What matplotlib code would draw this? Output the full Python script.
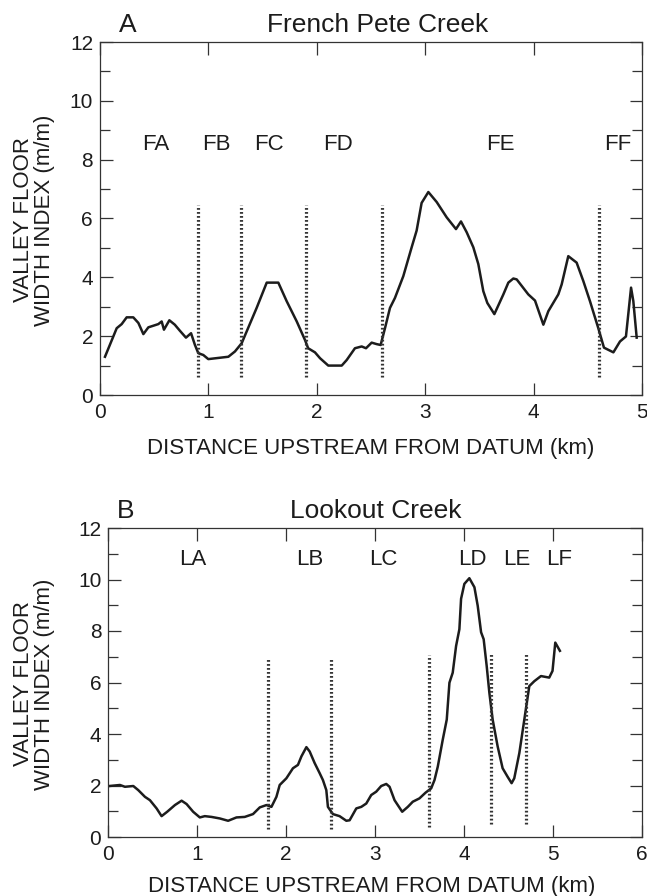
import matplotlib
matplotlib.use("Agg")
import matplotlib.pyplot as plt
from matplotlib.ticker import MultipleLocator

plt.rcParams['font.family'] = ['Liberation Sans', 'DejaVu Sans']

# ---------------- data: French Pete Creek (panel A) ----------------
fp_dist = [0.046, 0.154, 0.20, 0.246, 0.307, 0.354, 0.40, 0.446, 0.538, 0.569,
           0.59, 0.64, 0.69, 0.738, 0.793, 0.84, 0.876, 0.907, 0.953, 0.999,
           1.184, 1.245, 1.307, 1.353, 1.445, 1.538, 1.645, 1.722, 1.815, 1.891,
           1.92, 1.983, 2.03, 2.106, 2.23, 2.276, 2.352, 2.414, 2.454, 2.506,
           2.552, 2.589, 2.629, 2.675, 2.721, 2.798, 2.875, 2.921, 2.967, 3.029,
           3.106, 3.198, 3.284, 3.330, 3.383, 3.444, 3.490, 3.536, 3.573, 3.638,
           3.721, 3.767, 3.813, 3.844, 3.951, 4.013, 4.090, 4.136, 4.228, 4.259,
           4.320, 4.397, 4.459, 4.520, 4.597, 4.649, 4.736, 4.797, 4.852, 4.899,
           4.920, 4.951]
fp_width = [1.30, 2.27, 2.41, 2.64, 2.64, 2.45, 2.07, 2.30, 2.41, 2.50,
            2.22, 2.54, 2.39, 2.18, 1.95, 2.10, 1.70, 1.42, 1.36, 1.22,
            1.30, 1.48, 1.76, 2.16, 2.96, 3.82, 3.82, 3.19, 2.50, 1.87,
            1.59, 1.45, 1.25, 1.00, 1.00, 1.19, 1.59, 1.65, 1.59, 1.78,
            1.73, 1.70, 2.27, 2.96, 3.30, 4.04, 5.02, 5.59, 6.53, 6.90,
            6.56, 6.04, 5.64, 5.90, 5.53, 5.02, 4.45, 3.53, 3.13, 2.75,
            3.42, 3.82, 3.96, 3.93, 3.42, 3.21, 2.39, 2.85, 3.42, 3.76,
            4.72, 4.50, 3.87, 3.19, 2.27, 1.61, 1.45, 1.82, 1.99, 3.65,
            3.19, 1.95]
fp_bounds = [0.9, 1.3, 1.9, 2.6, 4.6]
fp_bound_bottom = [0.6, 0.6, 0.6, 0.6, 0.6]
fp_bound_top = [6.45, 6.45, 6.45, 6.45, 6.45]
fp_reach_names = ["FA", "FB", "FC", "FD", "FE", "FF"]
fp_reach_x = [0.51, 1.07, 1.56, 2.2, 3.69, 4.78]
fp_reach_y = 8.5

# ---------------- data: Lookout Creek (panel B) ----------------
lo_dist = [0.011, 0.131, 0.187, 0.281, 0.337, 0.412, 0.468, 0.543, 0.599, 0.662,
           0.749, 0.824, 0.880, 0.954, 1.029, 1.085, 1.160, 1.254, 1.347, 1.441,
           1.534, 1.627, 1.703, 1.778, 1.834, 1.890, 1.927, 2.002, 2.076, 2.132,
           2.171, 2.227, 2.264, 2.320, 2.376, 2.413, 2.451, 2.469, 2.525, 2.600,
           2.676, 2.713, 2.788, 2.844, 2.900, 2.956, 3.012, 3.068, 3.125, 3.162,
           3.218, 3.304, 3.367, 3.423, 3.498, 3.566, 3.630, 3.667, 3.704, 3.760,
           3.805, 3.835, 3.872, 3.910, 3.947, 3.966, 4.003, 4.059, 4.116, 4.153,
           4.191, 4.220, 4.254, 4.284, 4.321, 4.377, 4.433, 4.489, 4.534, 4.564,
           4.621, 4.677, 4.733, 4.789, 4.864, 4.957, 4.994, 5.025, 5.077]
lo_width = [1.98, 2.02, 1.95, 1.98, 1.82, 1.56, 1.43, 1.11, 0.81, 0.98,
            1.24, 1.41, 1.28, 0.98, 0.76, 0.81, 0.78, 0.72, 0.63, 0.76,
            0.78, 0.89, 1.15, 1.24, 1.17, 1.56, 2.02, 2.28, 2.67, 2.80,
            3.13, 3.49, 3.32, 2.87, 2.48, 2.21, 1.82, 1.17, 0.89, 0.81,
            0.63, 0.65, 1.11, 1.17, 1.30, 1.63, 1.76, 1.98, 2.06, 1.95,
            1.43, 0.98, 1.17, 1.37, 1.50, 1.72, 1.89, 2.21, 2.73, 3.78,
            4.56, 5.99, 6.38, 7.42, 8.07, 9.25, 9.83, 10.05, 9.70, 8.98,
            7.95, 7.68, 6.64, 5.60, 4.56, 3.52, 2.67, 2.34, 2.09, 2.28,
            3.26, 4.56, 5.86, 6.05, 6.25, 6.19, 6.45, 7.55, 7.23]
lo_bounds = [1.8, 2.5, 3.6, 4.3, 4.7]
lo_bound_bottom = [0.3, 0.3, 0.4, 0.5, 0.5]
lo_bound_top = [6.95, 6.95, 7.05, 7.15, 7.1]
lo_reach_names = ["LA", "LB", "LC", "LD", "LE", "LF"]
lo_reach_x = [0.955, 2.27, 3.09, 4.09, 4.59, 5.07]
lo_reach_y = 10.76

xlabel = "DISTANCE UPSTREAM FROM DATUM (km)"
ylabel = "VALLEY FLOOR\nWIDTH INDEX (m/m)"

INK = '#1c1c1c'
W, H = 647, 896
fig = plt.figure(figsize=(W / 100, H / 100), dpi=100)


def fx(px):
    return px / W


def fy(py):
    return 1 - py / H


def style_axes(ax, xmax, xpad):
    ax.set_xlim(0, xmax)
    ax.set_ylim(0, 12)
    ax.set_xticks(range(0, xmax + 1))
    ax.set_yticks(range(0, 13, 2))
    ax.yaxis.set_minor_locator(MultipleLocator(1))
    for s in ax.spines.values():
        s.set_linewidth(0.9)
        s.set_color('#333333')
    ax.tick_params(which='major', axis='both', direction='in', top=True, right=True,
                   length=9, width=0.9, color='#333333', labelsize=15, labelcolor=INK)
    ax.tick_params(which='major', axis='y', pad=5)
    ax.tick_params(which='major', axis='x', pad=xpad)
    ax.tick_params(which='minor', axis='y', direction='in', left=True, right=True,
                   length=7, width=0.9, color='#333333')


def draw_panel(ax, dist, width, bounds, bb, bt, names, nx, ny):
    ax.plot(dist, width, color=INK, lw=1.8, solid_joinstyle='round')
    for b, lo, hi in zip(bounds, bb, bt):
        ax.plot([b, b], [lo, hi], color='#333333', lw=2.3,
                linestyle=(0, (0.55, 0.7)))
    for n, x in zip(names, nx):
        ax.text(x, ny, n, ha='center', va='center', fontsize=16, color=INK)


# Panel A
axA = fig.add_axes([fx(100), fy(395), (642 - 100) / W, (395 - 42) / H])
style_axes(axA, 5, 5.5)
draw_panel(axA, fp_dist, fp_width, fp_bounds, fp_bound_bottom, fp_bound_top,
           fp_reach_names, fp_reach_x, fp_reach_y)

# Panel B
axB = fig.add_axes([fx(108.3), fy(837), (642 - 108.3) / W, (837 - 528) / H])
style_axes(axB, 6, 6)
draw_panel(axB, lo_dist, lo_width, lo_bounds, lo_bound_bottom, lo_bound_top,
           lo_reach_names, lo_reach_x, lo_reach_y)

# titles and panel letters
fig.text(fx(119), fy(32), "A", fontsize=19, ha='left', va='baseline', color=INK)
fig.text(fx(378), fy(32), "French Pete Creek", fontsize=19, ha='center', va='baseline', color=INK)
fig.text(fx(117), fy(518), "B", fontsize=19, ha='left', va='baseline', color=INK)
fig.text(fx(376), fy(518), "Lookout Creek", fontsize=19, ha='center', va='baseline', color=INK)

# axis labels
fig.text(fx(371), fy(454), xlabel, fontsize=16, ha='center', va='baseline', color=INK)
fig.text(fx(372), fy(892), xlabel, fontsize=16, ha='center', va='baseline', color=INK)
fig.text(fx(34), fy(220), ylabel, fontsize=16, rotation=90, ha='center', va='center',
         multialignment='center', linespacing=1.05, color=INK)
fig.text(fx(34), fy(684), ylabel, fontsize=16, rotation=90, ha='center', va='center',
         multialignment='center', linespacing=1.05, color=INK)

fig.savefig("out.png", dpi=100)
